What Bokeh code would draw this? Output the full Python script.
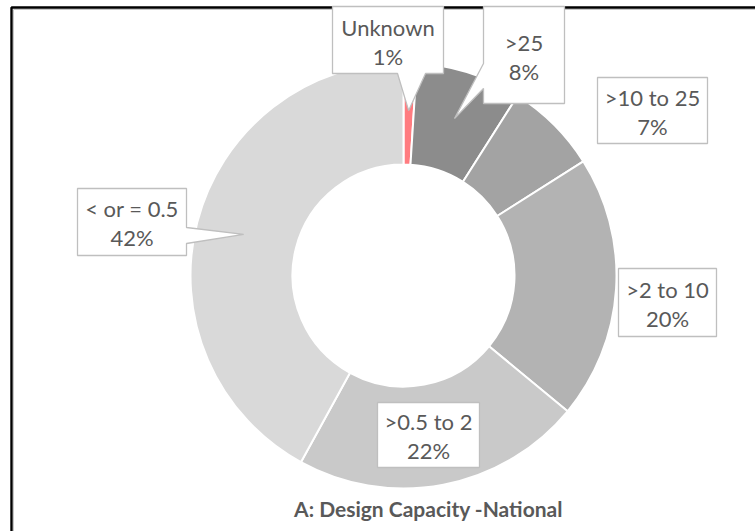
import math
from bokeh.plotting import figure
from bokeh.models import ColumnDataSource, Range1d
from bokeh.core.properties import value
from bokeh.embed import file_html
from bokeh.resources import INLINE

# Share of systems by design capacity band, clockwise from 12 o'clock
categories = ["Unknown", ">25", ">10 to 25", ">2 to 10", ">0.5 to 2", "< or = 0.5"]
shares = [1, 8, 7, 20, 22, 42]
colors = ["#FF7C80", "#8C8C8C", "#A3A3A3", "#B3B3B3", "#C9C9C9", "#D9D9D9"]
title_text = "A: Design Capacity -National"

W, H = 755, 531
CX, CY = 403, 275          # donut centre (page pixels, y downward)
R_OUT, R_IN = 213, 111
TIP_R = 165                # callout pointer tip radius

def sy(py):
    return H - py

p = figure(width=W, height=H, output_backend="svg", toolbar_location=None,
           x_range=Range1d(0, W), y_range=Range1d(0, H),
           x_axis_location=None, y_axis_location=None, min_border=0)
p.outline_line_color = None
p.grid.visible = False
p.background_fill_color = "white"
p.border_fill_color = "white"

# chart frame
p.line([11, 11, W + 5], [sy(H + 5), sy(7), sy(7)], line_color="black", line_width=2.4)
p.line([13, 13, W + 5], [sy(H + 5), sy(9), sy(9)], line_color="#C8C8C8", line_width=1)

# wedges
total = float(sum(shares))
starts, ends, mids = [], [], []
acc = 0.0
for v in shares:
    a0 = math.pi / 2 - 2 * math.pi * acc / total
    acc += v
    a1 = math.pi / 2 - 2 * math.pi * acc / total
    starts.append(a0)
    ends.append(a1)
    mids.append((a0 + a1) / 2)

src = ColumnDataSource(dict(start=starts, end=ends, color=colors))
p.annular_wedge(x=CX, y=sy(CY), inner_radius=R_IN, outer_radius=R_OUT,
                start_angle="start", end_angle="end", direction="clock",
                fill_color="color", line_color="white", line_width=2, source=src)

# callout boxes: (x0, x1, y0, y1) in page pixels, optional pointer
boxes = [
    (332, 443, 6, 73, ("bottom", 397, 425)),
    (483, 564, 6, 103, ("left", 63, 88)),
    (597, 707, 77, 143, None),
    (618, 716, 268, 336, None),
    (377, 479, 402, 467, None),
    (77, 186, 188, 255, ("right", 227, 243)),
]

xs_all, ys_all = [], []
for i, (x0, x1, y0, y1, ptr) in enumerate(boxes):
    tip = (CX + TIP_R * math.cos(mids[i]), CY - TIP_R * math.sin(mids[i]))
    pts = [(x0, y0), (x1, y0)]
    if ptr and ptr[0] == "right":
        pts += [(x1, ptr[1]), tip, (x1, ptr[2])]
    pts += [(x1, y1)]
    if ptr and ptr[0] == "bottom":
        pts += [(ptr[2], y1), tip, (ptr[1], y1)]
    pts += [(x0, y1)]
    if ptr and ptr[0] == "left":
        pts += [(x0, ptr[2]), tip, (x0, ptr[1])]
    xs_all.append([q[0] for q in pts])
    ys_all.append([sy(q[1]) for q in pts])

p.patches(xs_all, ys_all, fill_color="white", line_color="#BFBFBF", line_width=1.3)

lx, ly1, ly2, t1, t2 = [], [], [], [], []
for i, (x0, x1, y0, y1, ptr) in enumerate(boxes):
    cx = (x0 + x1) / 2
    cy = (max(y0, 8) + y1) / 2 + 1
    lx.append(cx)
    ly1.append(sy(cy - 14.5))
    ly2.append(sy(cy + 14.5))
    t1.append(categories[i])
    t2.append(f"{shares[i]}%")

lab = ColumnDataSource(dict(x=lx, y1=ly1, y2=ly2, t1=t1, t2=t2))
for ycol, tcol in (("y1", "t1"), ("y2", "t2")):
    p.text(x="x", y=ycol, text=tcol, source=lab, text_align="center",
           text_baseline="middle", text_font=value("Lato"),
           text_font_size="22px", text_color="#595959")

p.text(x=[428], y=[sy(508)], text=[title_text], text_align="center",
       text_baseline="middle", text_font=value("Lato"), text_font_style="bold",
       text_font_size="21px", text_color="#595959")

open("out.html", "w").write(file_html(p, INLINE))
